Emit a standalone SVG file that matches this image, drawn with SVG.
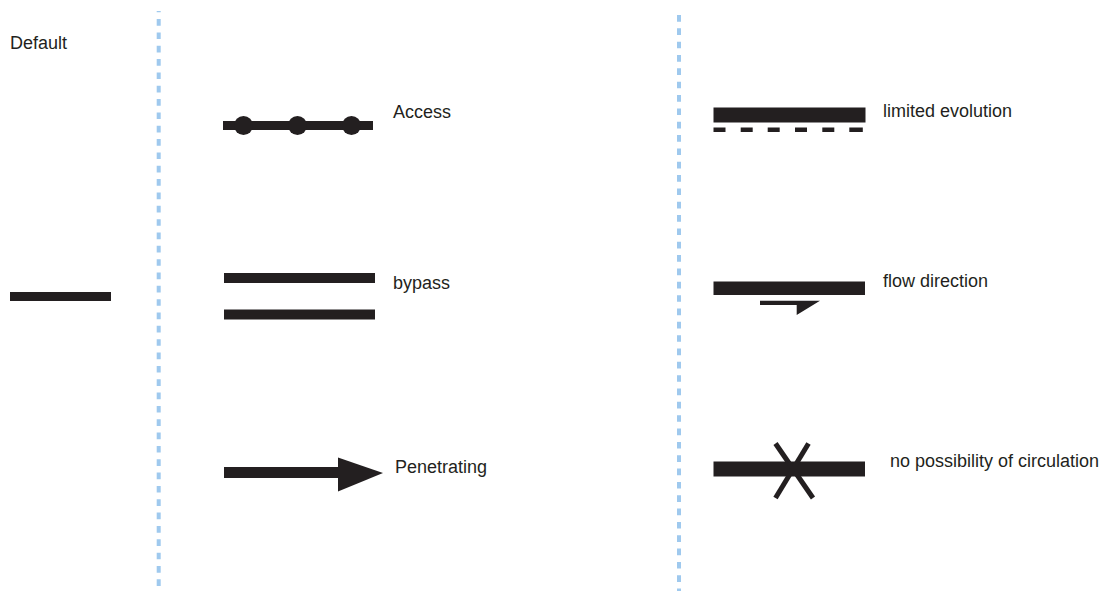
<svg xmlns="http://www.w3.org/2000/svg" width="1103" height="591" viewBox="0 0 1103 591">
  <style>
    .lbl { font-family: "Liberation Sans", Arial, sans-serif; font-size: 18px; fill: #231f20; }
    .ink { fill: #231f20; }
    .sep { stroke: #9fc9ee; stroke-width: 4; stroke-dasharray: 6.67 6.67; fill: none; }
  </style>
  <rect width="1103" height="591" fill="#ffffff"/>
  <g id="separators">
    <line class="sep" x1="158.7" y1="11" x2="158.7" y2="591" stroke-dashoffset="5.3"/>
    <line class="sep" x1="679" y1="15" x2="679" y2="591"/>
  </g>
  <g id="default">
    <text class="lbl" x="10" y="49">Default</text>
    <rect class="ink" x="10" y="292" width="101" height="9"/>
  </g>
  <g id="access">
    <rect class="ink" x="223" y="121" width="150" height="9"/>
    <circle class="ink" cx="243.5" cy="125.5" r="9.5"/>
    <circle class="ink" cx="297.5" cy="125.5" r="9.5"/>
    <circle class="ink" cx="351.5" cy="125.5" r="9.5"/>
    <text class="lbl" x="393" y="118">Access</text>
  </g>
  <g id="bypass">
    <rect class="ink" x="224" y="273" width="151" height="10"/>
    <rect class="ink" x="224" y="309.5" width="151" height="10"/>
    <text class="lbl" x="393" y="289">bypass</text>
  </g>
  <g id="penetrating">
    <rect class="ink" x="224" y="467" width="116" height="11"/>
    <polygon class="ink" points="338,457.5 383,473 338,491.5"/>
    <text class="lbl" x="395" y="473">Penetrating</text>
  </g>
  <g id="limited-evolution">
    <rect class="ink" x="713.5" y="107.5" width="152" height="15"/>
    <g class="ink">
      <rect x="713.5" y="127.5" width="12" height="4.5"/>
      <rect x="740.7" y="127.5" width="12" height="4.5"/>
      <rect x="767.7" y="127.5" width="12" height="4.5"/>
      <rect x="795" y="127.5" width="12" height="4.5"/>
      <rect x="822.3" y="127.5" width="12" height="4.5"/>
      <rect x="849.3" y="127.5" width="13.5" height="4.5"/>
    </g>
    <text class="lbl" x="883" y="117">limited evolution</text>
  </g>
  <g id="flow-direction">
    <rect class="ink" x="713.5" y="281.5" width="151.5" height="13.5"/>
    <polygon class="ink" points="760,300.7 820,300.7 796.7,315 796.7,305 760,305"/>
    <text class="lbl" x="883" y="287">flow direction</text>
  </g>
  <g id="no-circulation">
    <rect class="ink" x="713.5" y="461.5" width="151.5" height="15"/>
    <line x1="775.5" y1="443.5" x2="813" y2="498" stroke="#231f20" stroke-width="5"/>
    <line x1="808.5" y1="443.5" x2="775.5" y2="498" stroke="#231f20" stroke-width="5"/>
    <text class="lbl" x="890" y="467">no possibility of circulation</text>
  </g>
</svg>
